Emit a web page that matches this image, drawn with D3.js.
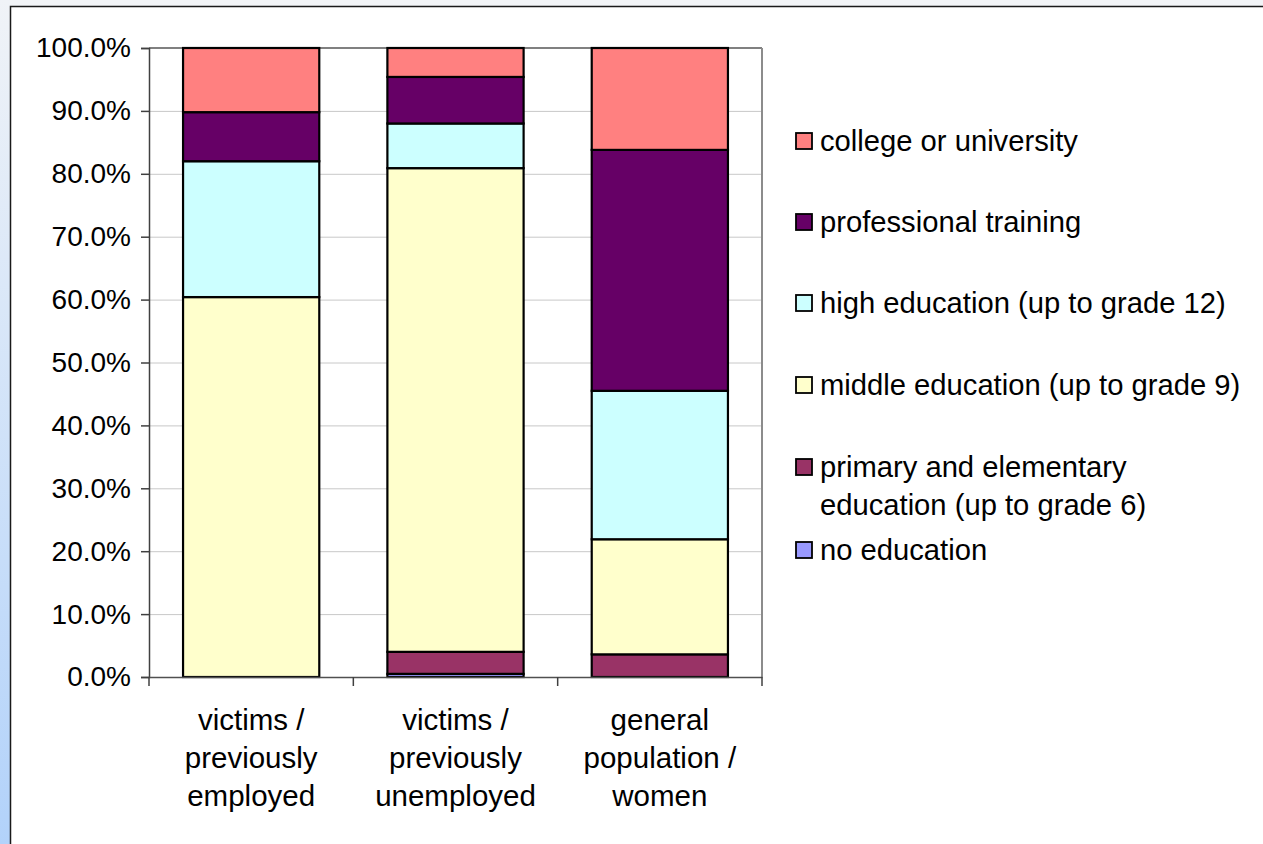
<!DOCTYPE html>
<html><head><meta charset="utf-8">
<script src="https://cdn.jsdelivr.net/npm/d3@7"></script>
<style>html,body{margin:0;padding:0;background:#f2f4f7;overflow:hidden}svg{display:block}</style>
</head><body>
<svg id="c" width="1263" height="844"></svg>
<script>
const categories = [["victims /","previously","employed"],["victims /","previously","unemployed"],["general","population /","women"]];
const seriesNames = ["no education","primary and elementary education (up to grade 6)","middle education (up to grade 9)","high education (up to grade 12)","professional training","college or university"];
const legendLines = [["no education"],["primary and elementary","education (up to grade 6)"],["middle education (up to grade 9)"],["high education (up to grade 12)"],["professional training"],["college or university"]];
const seriesColors = ["#9999FF","#993366","#FFFFCC","#CCFFFF","#660066","#FF8080"];
const noEducation = [0, 0.5, 0];
const primary = [0, 3.5, 3.6];
const middle = [60.4, 76.9, 18.3];
const high = [21.6, 7.1, 23.6];
const professional = [7.8, 7.4, 38.3];
const college = [10.2, 4.6, 16.2];
const yTicks = [0,10,20,30,40,50,60,70,80,90,100];

const seriesValues = [noEducation, primary, middle, high, professional, college];
const rows = categories.map((c,i)=>{const r={idx:i}; seriesNames.forEach((s,j)=>r[s]=seriesValues[j][i]); return r;});
const stack = d3.stack().keys(seriesNames)(rows);

const svg = d3.select("#c");
const defs = svg.append("defs");
const g = defs.append("linearGradient").attr("id","lg").attr("x1",0).attr("y1",0).attr("x2",0).attr("y2",1);
g.append("stop").attr("offset","0%").attr("stop-color","#f0f3f7");
g.append("stop").attr("offset","100%").attr("stop-color","#b2d2fa");
svg.append("rect").attr("x",0).attr("y",0).attr("width",1263).attr("height",844).attr("fill","#f2f4f7");
svg.append("rect").attr("x",0).attr("y",0).attr("width",10).attr("height",844).attr("fill","url(#lg)");
svg.append("rect").attr("x",10.5).attr("y",6.5).attr("width",1300).attr("height",900).attr("fill","#fff").attr("stroke","#1a1a1a").attr("stroke-width",1.5);

const L=149, R=762, T=48, B=677;
const x = d3.scaleBand().domain(d3.range(categories.length)).range([L,R]).paddingInner(1/3).paddingOuter(1/6);
const xc = d3.scaleBand().domain(d3.range(categories.length)).range([L,R]).padding(0);
const y = d3.scaleLinear().domain([0,100]).range([B,T]);
const font = "'Liberation Sans', Arial, sans-serif";

// gridlines
svg.append("g").selectAll("line").data(yTicks.filter(t=>t>0 && t<100)).join("line")
  .attr("x1",L).attr("x2",R).attr("y1",d=>y(d)+0.5).attr("y2",d=>y(d)+0.5).attr("stroke","#c8c8c8").attr("stroke-width",1);
svg.append("line").attr("x1",L).attr("x2",R).attr("y1",y(100)).attr("y2",y(100)).attr("stroke","#808080").attr("stroke-width",2);
svg.append("line").attr("x1",R).attr("x2",R).attr("y1",T).attr("y2",B).attr("stroke","#8c8c8c").attr("stroke-width",2);

// bars
svg.append("g").selectAll("g").data(stack).join("g").attr("fill",(d,i)=>seriesColors[i])
  .selectAll("rect").data(d=>d).join("rect")
  .attr("x",(d,i)=>x(i)).attr("width",x.bandwidth())
  .attr("y",d=>y(d[1])).attr("height",d=>y(d[0])-y(d[1]))
  .attr("stroke","#000").attr("stroke-width",2.2);

// y axis
const ya = svg.append("g").attr("transform",`translate(${L},0)`)
  .call(d3.axisLeft(y).tickValues(yTicks).tickFormat(d=>d3.format(".1f")(d)+"%").tickSize(8).tickPadding(10));
ya.select(".domain").attr("stroke","#404040").attr("stroke-width",1.5);
ya.selectAll(".tick line").attr("stroke","#404040").attr("stroke-width",1.5);
ya.selectAll("text").attr("font-family",font).attr("font-size",28).attr("fill","#000");

// x axis
const xa = svg.append("g").attr("transform",`translate(0,${B})`)
  .call(d3.axisBottom(xc).tickSize(0).tickFormat(""));
xa.select(".domain").attr("stroke","#505050").attr("stroke-width",1.5);
svg.append("g").selectAll("line").data(d3.range(categories.length+1)).join("line")
  .attr("x1",d=>L+(R-L)*d/categories.length).attr("x2",d=>L+(R-L)*d/categories.length)
  .attr("y1",B).attr("y2",B+9).attr("stroke","#404040").attr("stroke-width",1.5);
const xl = svg.append("g").selectAll("text").data(categories).join("text")
  .attr("x",(d,i)=>xc(i)+xc.bandwidth()/2).attr("y",730)
  .attr("text-anchor","middle").attr("font-family",font).attr("font-size",29.5).attr("fill","#000");
xl.selectAll("tspan").data(d=>d).join("tspan").attr("x",function(){return this.parentNode.getAttribute("x");})
  .attr("dy",(d,i)=>i?38:0).text(d=>d);

// legend
const legendY = [550, 467, 385, 303, 222, 141];
const lg = svg.append("g").selectAll("g").data(seriesNames).join("g");
lg.append("rect").attr("x",796).attr("y",(d,i)=>legendY[i]-8).attr("width",16).attr("height",16)
  .attr("fill",(d,i)=>seriesColors[i]).attr("stroke","#000").attr("stroke-width",1.8);
const lt = lg.append("text").attr("x",820).attr("y",(d,i)=>legendY[i]+10)
  .attr("font-family",font).attr("font-size",29.2).attr("fill","#000");
lt.selectAll("tspan").data((d,i)=>legendLines[i]).join("tspan").attr("x",820).attr("dy",(d,i)=>i?38:0).text(d=>d);
</script>
</body></html>
